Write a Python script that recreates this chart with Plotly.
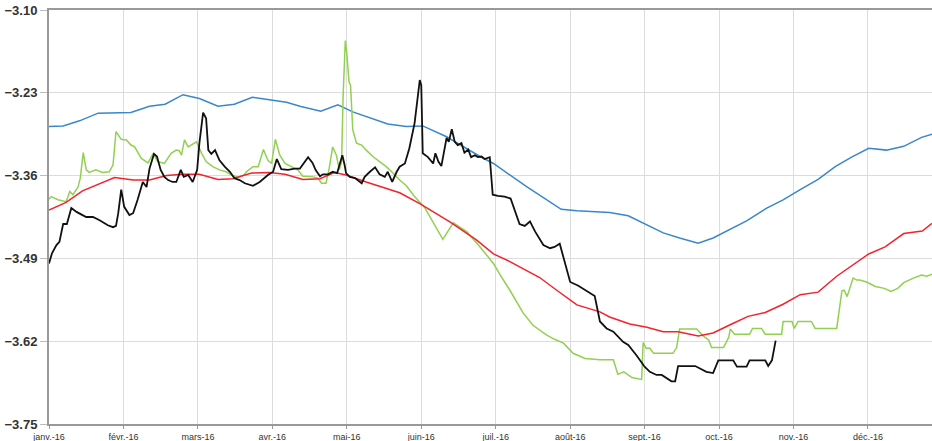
import plotly.graph_objects as go

# x positions expressed in months since 1 Jan 2016 (0 = janv.-16, 1 = févr.-16, ...)
month_labels = ["janv.-16", "févr.-16", "mars-16", "avr.-16", "mai-16", "juin-16",
                "juil.-16", "août-16", "sept.-16", "oct.-16", "nov.-16", "déc.-16"]
y_ticks = [-3.75, -3.62, -3.49, -3.36, -3.23, -3.10]

blue_x = [0.00, 0.19, 0.41, 0.66, 1.10, 1.35, 1.56, 1.80, 2.02, 2.27, 2.49, 2.73, 2.96, 3.19,
          3.37, 3.65, 3.88, 4.08, 4.55, 4.80, 5.02, 5.34, 5.79, 5.97, 6.41, 6.88, 7.09, 7.53,
          7.78, 7.98, 8.25, 8.47, 8.72, 8.92, 9.15, 9.37, 9.64, 9.86, 10.09, 10.33, 10.56,
          10.78, 11.01, 11.25, 11.48, 11.72, 11.86]
blue_y = [-3.283, -3.282, -3.274, -3.262, -3.261, -3.251, -3.248, -3.233, -3.239, -3.251,
          -3.248, -3.237, -3.241, -3.245, -3.251, -3.259, -3.249, -3.260, -3.279, -3.283,
          -3.282, -3.299, -3.330, -3.341, -3.377, -3.413, -3.415, -3.418, -3.423, -3.435,
          -3.450, -3.458, -3.466, -3.458, -3.444, -3.431, -3.411, -3.398, -3.382, -3.366,
          -3.346, -3.331, -3.317, -3.320, -3.314, -3.300, -3.295]

red_x = [0.00, 0.23, 0.45, 0.68, 0.88, 1.13, 1.35, 1.58, 1.80, 2.02, 2.27, 2.47, 2.72, 2.96,
         3.17, 3.41, 3.64, 3.84, 3.99, 4.26, 4.71, 4.98, 5.39, 5.74, 5.97, 6.19, 6.59, 6.82,
         7.09, 7.40, 7.53, 7.80, 8.03, 8.25, 8.45, 8.72, 8.92, 9.17, 9.39, 9.62, 9.86, 10.09,
         10.33, 10.58, 10.80, 11.01, 11.23, 11.48, 11.73, 11.86]
red_y = [-3.414, -3.402, -3.384, -3.373, -3.363, -3.367, -3.367, -3.360, -3.358, -3.358,
         -3.366, -3.365, -3.356, -3.355, -3.358, -3.366, -3.365, -3.355, -3.359, -3.370,
         -3.387, -3.404, -3.433, -3.461, -3.483, -3.495, -3.520, -3.540, -3.563, -3.574,
         -3.582, -3.593, -3.598, -3.605, -3.605, -3.612, -3.607, -3.593, -3.581, -3.575,
         -3.562, -3.547, -3.543, -3.518, -3.500, -3.483, -3.472, -3.451, -3.447, -3.435]

black_x = [0.00, 0.04, 0.10, 0.14, 0.19, 0.24, 0.30, 0.37, 0.45, 0.50, 0.59, 0.68, 0.79, 0.86,
           0.90, 0.93, 0.97, 1.01, 1.08, 1.13, 1.19, 1.26, 1.31, 1.35, 1.41, 1.45, 1.50, 1.55,
           1.60, 1.66, 1.71, 1.77, 1.81, 1.87, 1.93, 1.99, 2.02, 2.07, 2.11, 2.14, 2.18, 2.23,
           2.29, 2.36, 2.43, 2.49, 2.56, 2.63, 2.74, 2.83, 2.94, 3.01, 3.06, 3.12, 3.21, 3.30,
           3.37, 3.41, 3.48, 3.54, 3.58, 3.64, 3.68, 3.75, 3.81, 3.87, 3.90, 3.94, 3.97, 3.99,
           4.04, 4.11, 4.20, 4.24, 4.31, 4.38, 4.44, 4.51, 4.55, 4.61, 4.67, 4.71, 4.78, 4.84,
           4.91, 4.96, 4.98, 5.00, 5.02, 5.09, 5.16, 5.19, 5.23, 5.27, 5.34, 5.37, 5.41, 5.45,
           5.49, 5.54, 5.58, 5.63, 5.67, 5.72, 5.76, 5.81, 5.85, 5.92, 5.96, 6.03, 6.12, 6.20,
           6.24, 6.32, 6.39, 6.46, 6.53, 6.64, 6.73, 6.79, 6.86, 6.95, 7.00, 7.11, 7.22, 7.33,
           7.40, 7.49, 7.58, 7.65, 7.71, 7.78, 7.89, 8.00, 8.07, 8.16, 8.23, 8.36, 8.41, 8.45,
           8.68, 8.83, 8.92, 8.99, 9.19, 9.24, 9.37, 9.41, 9.62, 9.66, 9.71, 9.76]
black_y = [-3.498, -3.482, -3.469, -3.464, -3.436, -3.436, -3.411, -3.417, -3.422, -3.425,
           -3.425, -3.430, -3.438, -3.441, -3.439, -3.419, -3.382, -3.409, -3.422, -3.419,
           -3.398, -3.370, -3.378, -3.349, -3.326, -3.330, -3.351, -3.362, -3.367, -3.370,
           -3.370, -3.351, -3.362, -3.359, -3.370, -3.351, -3.309, -3.261, -3.270, -3.320,
           -3.326, -3.320, -3.336, -3.346, -3.354, -3.364, -3.367, -3.372, -3.376, -3.370,
           -3.359, -3.354, -3.334, -3.350, -3.351, -3.349, -3.349, -3.343, -3.331, -3.340,
           -3.351, -3.361, -3.358, -3.358, -3.354, -3.356, -3.343, -3.328, -3.343, -3.356,
           -3.362, -3.364, -3.372, -3.362, -3.354, -3.347, -3.358, -3.362, -3.354, -3.370,
           -3.354, -3.346, -3.341, -3.317, -3.278, -3.233, -3.210, -3.218, -3.325, -3.331,
           -3.341, -3.325, -3.338, -3.345, -3.301, -3.307, -3.287, -3.307, -3.312, -3.309,
           -3.324, -3.319, -3.331, -3.328, -3.331, -3.330, -3.334, -3.331, -3.390, -3.392,
           -3.393, -3.396, -3.409, -3.436, -3.439, -3.432, -3.448, -3.469, -3.474, -3.472,
           -3.467, -3.508, -3.527, -3.533, -3.541, -3.549, -3.589, -3.600, -3.605, -3.613,
           -3.621, -3.626, -3.642, -3.660, -3.668, -3.673, -3.673, -3.683, -3.683, -3.659,
           -3.659, -3.668, -3.670, -3.650, -3.650, -3.660, -3.660, -3.650, -3.650, -3.659,
           -3.650, -3.619]

green_x = [0.00, 0.03, 0.12, 0.23, 0.28, 0.32, 0.39, 0.42, 0.46, 0.50, 0.54, 0.63, 0.72, 0.81,
           0.86, 0.90, 0.97, 1.04, 1.10, 1.15, 1.24, 1.33, 1.40, 1.46, 1.55, 1.64, 1.71, 1.75,
           1.78, 1.82, 1.87, 1.98, 2.05, 2.11, 2.20, 2.29, 2.38, 2.45, 2.54, 2.62, 2.65, 2.74,
           2.81, 2.88, 2.94, 2.99, 3.04, 3.10, 3.17, 3.26, 3.34, 3.41, 3.55, 3.61, 3.66, 3.72,
           3.76, 3.81, 3.86, 3.90, 3.93, 3.95, 3.98, 4.00, 4.03, 4.05, 4.08, 4.13, 4.20, 4.26,
           4.35, 4.44, 4.53, 4.62, 4.71, 4.80, 4.89, 5.05, 5.18, 5.29, 5.43, 5.61, 5.79, 5.97,
           6.06, 6.19, 6.37, 6.50, 6.68, 6.79, 6.91, 7.04, 7.20, 7.40, 7.58, 7.64, 7.72, 7.83,
           7.96, 7.98, 8.02, 8.07, 8.12, 8.38, 8.43, 8.47, 8.70, 8.79, 8.86, 8.90, 9.06, 9.13,
           9.15, 9.21, 9.41, 9.45, 9.57, 9.62, 9.84, 9.86, 9.98, 10.01, 10.06, 10.24, 10.29,
           10.58, 10.65, 10.68, 10.72, 10.78, 10.80, 10.85, 10.89, 10.98, 11.10, 11.22, 11.31,
           11.40, 11.48, 11.61, 11.72, 11.79, 11.86]
green_y = [-3.397, -3.393, -3.398, -3.401, -3.385, -3.390, -3.378, -3.364, -3.324, -3.351,
           -3.355, -3.351, -3.355, -3.354, -3.343, -3.291, -3.303, -3.304, -3.312, -3.315,
           -3.333, -3.340, -3.325, -3.338, -3.341, -3.325, -3.320, -3.321, -3.328, -3.304,
           -3.315, -3.307, -3.325, -3.338, -3.346, -3.351, -3.354, -3.359, -3.363, -3.359,
           -3.354, -3.346, -3.346, -3.319, -3.336, -3.341, -3.303, -3.328, -3.341, -3.347,
           -3.351, -3.361, -3.362, -3.364, -3.372, -3.372, -3.351, -3.315, -3.328, -3.351,
           -3.338, -3.236, -3.148, -3.168, -3.213, -3.218, -3.288, -3.309, -3.312, -3.320,
           -3.330, -3.338, -3.346, -3.356, -3.367, -3.376, -3.390, -3.411, -3.438, -3.460,
           -3.434, -3.448, -3.472, -3.498, -3.516, -3.540, -3.576, -3.595, -3.610, -3.617,
           -3.623, -3.639, -3.647, -3.649, -3.649, -3.672, -3.668, -3.677, -3.680, -3.622,
           -3.631, -3.631, -3.639, -3.639, -3.630, -3.601, -3.601, -3.612, -3.618, -3.630,
           -3.630, -3.614, -3.601, -3.609, -3.609, -3.600, -3.600, -3.609, -3.609, -3.589,
           -3.589, -3.600, -3.589, -3.589, -3.600, -3.600, -3.541, -3.540, -3.550, -3.527,
           -3.521, -3.524, -3.524, -3.527, -3.534, -3.537, -3.542, -3.537, -3.528, -3.521,
           -3.516, -3.518, -3.515]

fig = go.Figure()
fig.add_trace(go.Scatter(x=blue_x, y=blue_y, mode="lines",
                         line=dict(color="#3a87c9", width=1.5)))
fig.add_trace(go.Scatter(x=green_x, y=green_y, mode="lines",
                         line=dict(color="#92d050", width=1.5)))
fig.add_trace(go.Scatter(x=red_x, y=red_y, mode="lines",
                         line=dict(color="#f5222d", width=1.5)))
fig.add_trace(go.Scatter(x=black_x, y=black_y, mode="lines",
                         line=dict(color="#111111", width=1.8)))

fig.update_layout(
    width=932, height=441,
    margin=dict(l=49, r=0, t=10, b=17),
    paper_bgcolor="white", plot_bgcolor="white",
    showlegend=False,
    font=dict(family="Liberation Sans, Arial, sans-serif", color="#333333"),
    xaxis=dict(
        range=[0, 11.86],
        tickmode="array", tickvals=list(range(12)), ticktext=month_labels,
        tickfont=dict(size=9, color="#333333"),
        showgrid=True, gridcolor="#dcdcdc", gridwidth=1,
        showline=True, linecolor="#999999", linewidth=2, mirror=True,
        ticks="outside", ticklen=3, tickcolor="#999999",
        zeroline=False, automargin=False,
    ),
    yaxis=dict(
        range=[-3.75, -3.10],
        tickmode="array", tickvals=y_ticks,
        tickformat=".2f",
        tickfont=dict(size=13, color="#333333", weight="bold"),
        showgrid=True, gridcolor="#dcdcdc", gridwidth=1,
        showline=True, linecolor="#999999", linewidth=2,
        ticks="outside", ticklen=7, tickcolor="#bbbbbb",
        zeroline=False, automargin=False,
    ),
)

# remove the page's default 8px body margin so the figure fills the window exactly
fig.write_html("out.html", config={"displayModeBar": False},
               post_script="document.body.style.margin='0px';")
